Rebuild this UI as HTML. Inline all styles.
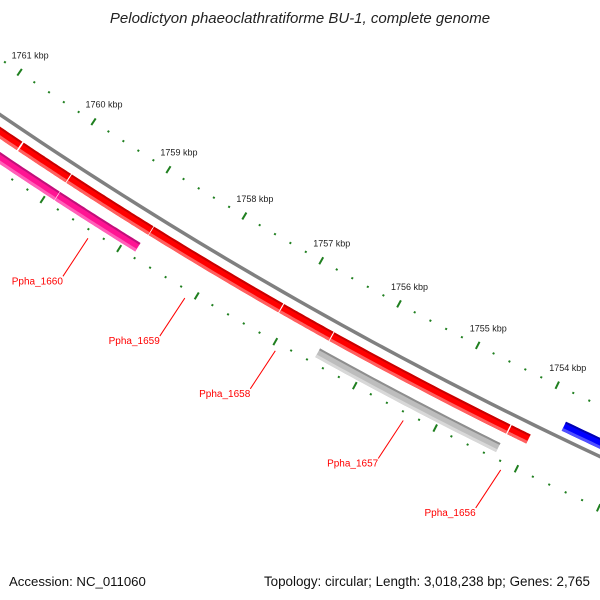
<!DOCTYPE html>
<html><head><meta charset="utf-8"><style>
body{margin:0;background:#fff}
svg{display:block;font-family:"Liberation Sans","DejaVu Sans",sans-serif}
</style></head><body>
<svg id="map" width="600" height="600" viewBox="0 0 600 600">
<text x="300" y="23" text-anchor="middle" font-size="15" font-style="italic" fill="#222">Pelodictyon phaeoclathratiforme BU-1, complete genome</text>
<text x="9" y="586" font-size="13.2" fill="#111">Accession: NC_011060</text>
<text x="590" y="586" text-anchor="end" font-size="13.4" fill="#111">Topology: circular; Length: 3,018,238 bp; Genes: 2,765</text>
<g id="ticks"></g>
<g id="feats"></g>
<g id="labels"></g>
</svg>
<script>
const majorTicks=[1761,1760,1759,1758,1757,1756,1755,1754];
const tickLabels=["1761 kbp","1760 kbp","1759 kbp","1758 kbp","1757 kbp","1756 kbp","1755 kbp","1754 kbp"];
const featStarts=[1761500,1760520,1759880,1758800,1757120,1756480,1754260,1761500,1759883,1756533,1753733];
const featEnds=[1760540,1759892,1758808,1757133,1756492,1754275,1754025,1759890,1758833,1754283,1752000];
const featTypes=["fwd","fwd","fwd","fwd","fwd","fwd","fwd","pink","pink","gray","rev"];
const geneNames=["Ppha_1660","Ppha_1659","Ppha_1658","Ppha_1657","Ppha_1656"];
const geneBp=[1759350,1758100,1756950,1755350,1754150];

const NS="http://www.w3.org/2000/svg";
const cx=2419,cy=-3432,r0=4293;
function ang(bp){return (123.2+(bp-1760000)/1000*1.2)*Math.PI/180;}
function P(bp,r){const t=ang(bp);return [cx+r*Math.cos(t),cy+r*Math.sin(t)];}
function mk(tag,attrs,parent){const e=document.createElementNS(NS,tag);for(const k in attrs)e.setAttribute(k,attrs[k]);parent.appendChild(e);return e;}
function band(b1,b2,ra,rb,fill,parent,name){
  const pts=[];const n=30;
  for(let i=0;i<=n;i++)pts.push(P(b1+(b2-b1)*i/n,ra));
  for(let i=n;i>=0;i--)pts.push(P(b1+(b2-b1)*i/n,rb));
  const e=mk('polygon',{points:pts.map(p=>p[0].toFixed(1)+','+p[1].toFixed(1)).join(' '),fill:fill},parent);
  
  
  return e;
}
const tg=document.getElementById('ticks'),fg=document.getElementById('feats'),lg=document.getElementById('labels');
{const pts=[];for(let i=0;i<=60;i++)pts.push(P(1762600-11200*i/60,r0));
const bb=mk('polyline',{points:pts.map(p=>p.join(',')).join(' '),fill:'none',stroke:'#808080','stroke-width':3.5},fg);

}
for(let bp=1762400;bp>=1751600;bp-=200){
  const major=bp%1000===0;
  [r0-46,r0+47].forEach(rr=>{
    const l=major?4:1;
    const a=P(bp,rr-l),b=P(bp,rr+l);
    const t=mk('line',{x1:a[0],y1:a[1],x2:b[0],y2:b[1],stroke:'#1f7f1f','stroke-width':2},tg);
    
    
  });
}
majorTicks.forEach((k,i)=>{
  const p=P(k*1000,r0-46);
  const t=mk('text',{x:p[0]-8,y:p[1]-14,'font-size':9,fill:'#222'},tg);
  t.textContent=tickLabels[i];
  
  
});
const styles={fwd:{ra:r0+10,rb:r0+20,c:'#ff0000',d:'#c80000',l:'#ff6060'},
pink:{ra:r0+31,rb:r0+41,c:'#ff1493',d:'#c0107a',l:'#ff60b8'},
gray:{ra:r0+31,rb:r0+41,c:'#bdbdbd',d:'#8e8e8e',l:'#d8d8d8'},
rev:{ra:r0-17,rb:r0-7,c:'#0000ff',d:'#0000b0',l:'#5050ff'}};
featStarts.forEach((s,i)=>{
  const st=styles[featTypes[i]];
  band(s,featEnds[i],st.ra,st.rb,st.c,fg,'feature-'+featTypes[i]);
  band(s,featEnds[i],st.ra,st.ra+2,st.d,fg,'feature-edge');
  band(s,featEnds[i],st.rb-3,st.rb,st.l,fg,'feature-highlight');
});
geneNames.forEach((g,i)=>{
  const a=P(geneBp[i],r0+55);
  const bx=a[0]-25,by=a[1]+38;
  const ln=mk('line',{x1:a[0],y1:a[1],x2:bx,y2:by,stroke:'#ff0000','stroke-width':1},lg);
  
  
  const t=mk('text',{x:bx,y:by+8,'font-size':10,fill:'#ff0000','text-anchor':'end'},lg);
  t.textContent=g;
  
  
});
</script>
</body></html>
